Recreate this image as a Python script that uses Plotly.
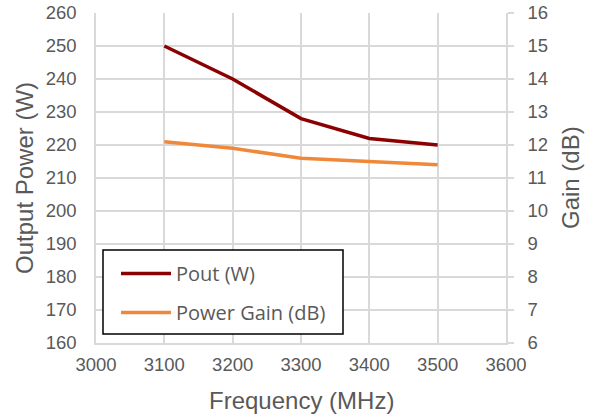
import plotly.graph_objects as go

freq = [3100, 3200, 3300, 3400, 3500]
pout_w = [250, 240, 228, 222, 220]
gain_db = [12.1, 11.9, 11.6, 11.5, 11.4]

x_ticks = [3000, 3100, 3200, 3300, 3400, 3500, 3600]
left_ticks = list(range(160, 261, 10))
right_ticks = list(range(6, 17, 1))

grid = "#d9d9d9"
txt = "#595959"
tick_font = dict(family="Liberation Sans, Arial", size=18.5, color=txt)
title_font = dict(family="Liberation Sans, Arial", size=24, color=txt)

fig = go.Figure()
fig.add_trace(go.Scatter(x=freq, y=pout_w, mode="lines", name="Pout (W)",
                         line=dict(color="#8b0000", width=3.5), legendgroup="a"))
fig.add_trace(go.Scatter(x=freq, y=gain_db, mode="lines", name="Power Gain (dB)",
                         line=dict(color="#f0883a", width=3.5), yaxis="y2", legendgroup="b"))

L, R, T, B = 96, 84, 13, 74
PW, PH = 590 - L - R, 417 - T - B


def px(x):
    return (x - L) / PW


def py(y):
    return (417 - B - y) / PH


fig.update_layout(
    width=590, height=417,
    margin=dict(l=L, r=R, t=T, b=B, autoexpand=False),
    plot_bgcolor="white", paper_bgcolor="white",
    xaxis=dict(range=[3000, 3600], tickvals=x_ticks, showgrid=True, gridcolor=grid, gridwidth=1.5,
               zeroline=False, showline=True, linecolor=grid, linewidth=1.5,
               tickfont=tick_font, ticks="", automargin=False, ticklabelstandoff=4),
    yaxis=dict(range=[160, 260], tickvals=left_ticks, showgrid=True, gridcolor=grid, gridwidth=1.5,
               zeroline=False, showline=True, linecolor=grid, linewidth=1.5,
               tickfont=tick_font, ticks="", automargin=False, ticklabelstandoff=14),
    yaxis2=dict(range=[6, 16], tickvals=right_ticks, overlaying="y", side="right", showgrid=False,
                zeroline=False, showline=True, linecolor=grid, linewidth=1.5,
                tickfont=tick_font, ticks="outside", ticklen=6, tickcolor=grid, tickwidth=1.5,
                automargin=False, ticklabelstandoff=10),
    legend=dict(x=px(116), y=py(254), xanchor="left", yanchor="top",
                borderwidth=0, bgcolor="rgba(0,0,0,0)",
                font=dict(family="Open Sans", size=20, color=txt),
                tracegroupgap=10, itemwidth=50, traceorder="grouped"),
    showlegend=True,
    shapes=[dict(type="rect", xref="paper", yref="paper", x0=px(103), x1=px(343),
                 y0=py(334), y1=py(250), line=dict(color="black", width=1.5),
                 fillcolor="white", layer="above")],
    annotations=[
        dict(text="Frequency (MHz)", xref="paper", yref="paper", x=0.5, y=py(400),
             xanchor="center", yanchor="middle", showarrow=False, font=title_font),
        dict(text="Output Power (W)", xref="paper", yref="paper", x=px(24), y=0.5,
             xanchor="center", yanchor="middle", textangle=-90, showarrow=False, font=title_font),
        dict(text="Gain (dB)", xref="paper", yref="paper", x=px(570), y=0.5,
             xanchor="center", yanchor="middle", textangle=-90, showarrow=False, font=title_font),
    ],
)

fig.write_html("out.html", config={"displayModeBar": False},
               post_script="document.body.style.margin='0';document.body.style.padding='0';")
